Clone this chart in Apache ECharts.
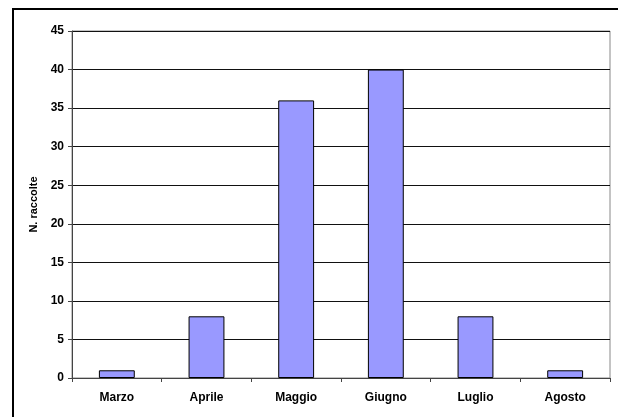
<!DOCTYPE html>
<html>
<head>
<meta charset="utf-8">
<script src="https://cdn.jsdelivr.net/npm/echarts@6/dist/echarts.min.js"></script>
<style>
  html, body { margin: 0; padding: 0; background: #fff; }
  #frame { position: absolute; left: 12px; top: 8px; width: 620px; height: 420px; border-left: 2px solid #000; border-top: 2px solid #000; box-sizing: border-box; }
  #chart { position: absolute; left: 0; top: 0; width: 618px; height: 417px; }
</style>
</head>
<body>
<div id="frame"></div>
<div id="chart"></div>
<script>
// month labels and counts
var months = ["Marzo", "Aprile", "Maggio", "Giugno", "Luglio", "Agosto"];
var counts = [1, 8, 36, 40, 8, 1];
var yTicks = { min: 0, max: 45, step: 5 };

var c = echarts.init(document.getElementById("chart"));
var font = "Liberation Sans, Arial, sans-serif";
c.setOption({
  animation: false,
  grid: { left: 72, right: 8, top: 31, bottom: 39, show: true, borderColor: "#888", borderWidth: 1, backgroundColor: "transparent" },
  xAxis: {
    type: "category", data: months,
    axisLine: { lineStyle: { color: "#444", width: 1 } },
    axisTick: { show: true, alignWithLabel: false, length: 4, lineStyle: { color: "#444" } },
    axisLabel: { color: "#000", fontFamily: font, fontWeight: "bold", fontSize: 12, margin: 14 }
  },
  yAxis: {
    type: "value", min: yTicks.min, max: yTicks.max, interval: yTicks.step,
    name: "N. raccolte", nameLocation: "middle", nameGap: 31,
    nameTextStyle: { color: "#000", fontFamily: font, fontWeight: "bold", fontSize: 11 },
    axisLine: { show: true, lineStyle: { color: "#444" } },
    axisTick: { show: true, length: 4, lineStyle: { color: "#444" } },
    axisLabel: { color: "#000", fontFamily: font, fontWeight: "bold", fontSize: 12, margin: 8 },
    splitLine: { lineStyle: { color: "#111", width: 1 } }
  },
  series: [{
    type: "bar", data: counts, barWidth: "40%",
    itemStyle: { color: "#9999ff", borderColor: "#000", borderWidth: 1 }
  }]
});
</script>
</body>
</html>
